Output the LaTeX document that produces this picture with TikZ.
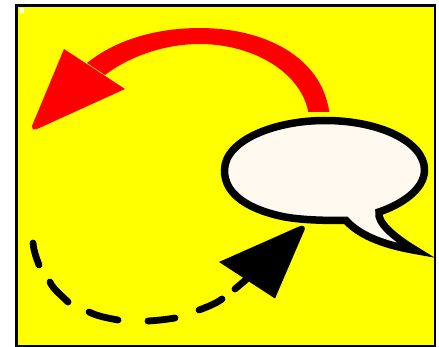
\documentclass[tikz,border=0pt]{standalone}
\definecolor{bubblefill}{HTML}{FFF9EF}
\definecolor{puryellow}{RGB}{255,255,0}
\definecolor{purred}{RGB}{255,0,0}
\tikzset{
  frame/.style={draw=black,line width=2.7pt,fill=puryellow},
  bubble/.style={draw=black,fill=bubblefill,line width=7.5pt,miter limit=20,line join=miter},
  dashpiece/.style={draw=black,line width=6.8pt,line cap=round}
}
\begin{document}
\begin{tikzpicture}[x=1pt,y=-1pt]
\useasboundingbox (0,0) rectangle (439,347);
\fill[white] (0,0) rectangle (439,347);
\draw[frame] (16.3,5.3) rectangle (435,346);
\fill[white] (20,8) rectangle (24,13);
% red arrow
\fill[purred] (329.3,112) .. controls (321,55) and (262,28) .. (200,28)
  .. controls (160,28) and (118,38) .. (87,63) -- (105,75)
  .. controls (130,56) and (165,44) .. (200,44)
  .. controls (250,44) and (300,70) .. (308.3,112) -- cycle;
\fill[purred] (64,49) -- (125,89) -- (36,129.5) .. controls (33.5,130.5) and (31,128.5) .. (32,126) -- cycle;
% bubble
\draw[bubble] (346,220.5) .. controls (330,220.5) and (305,220.5) .. (285,217)
  .. controls (250,210) and (224,195) .. (224.5,170)
  .. controls (225,140) and (275,120.5) .. (325,120.5)
  .. controls (380,120.5) and (424.5,142) .. (424.5,170)
  .. controls (424.5,190) and (400,205) .. (379,212)
  .. controls (377,222) and (392,236) .. (416,250.5)
  .. controls (390,246) and (362,238) .. (346,220.5) -- cycle;
% black arrow
\fill[black] (219,262) -- (299,226.5) .. controls (303,224.5) and (306,227) .. (304.5,230) -- (275,298.5) -- cycle;
% dashes
\draw[dashpiece] (33,243) .. controls (33.5,250) and (36,257) .. (39,265);
\draw[dashpiece] (50,282) .. controls (53,289) and (61,295) .. (68,302);
\draw[dashpiece] (89,312) .. controls (97,316) and (107,318) .. (118,320);
\draw[dashpiece] (148,321) .. controls (157,320.5) and (166,319.5) .. (175,318);
\draw[dashpiece] (199,310) .. controls (207,307) and (215,304) .. (222,299);
\draw[dashpiece] (235,289) -- (248,278);
\end{tikzpicture}
\end{document}
